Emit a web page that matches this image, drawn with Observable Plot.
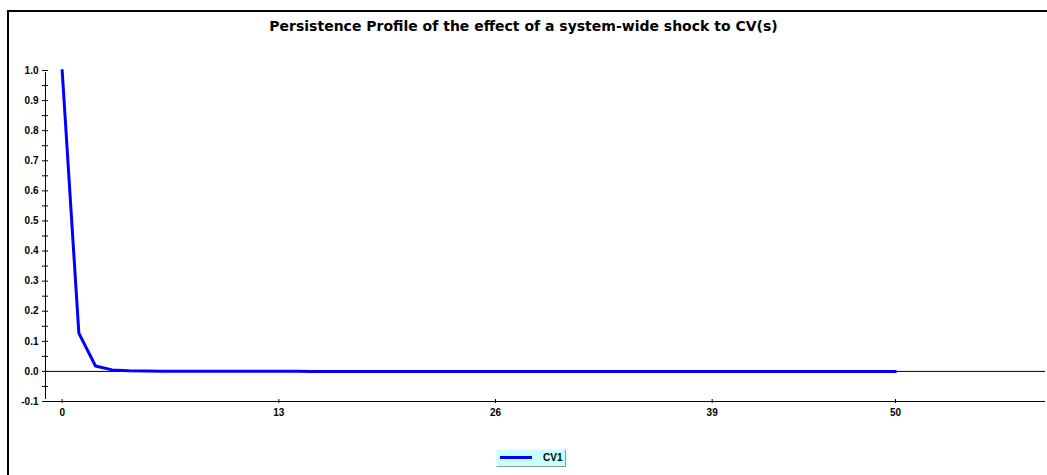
<!DOCTYPE html>
<html>
<head>
<meta charset="utf-8">
<script src="https://cdn.jsdelivr.net/npm/d3@7"></script>
<script src="https://cdn.jsdelivr.net/npm/@observablehq/plot@0.6"></script>
<style>
  body { margin: 0; background: #fff; }
  #wrap { position: relative; width: 1047px; height: 475px; overflow: hidden; font-family: "Liberation Sans", Arial, sans-serif; background: #fff; }
  #plot { position: absolute; left: 0; top: 0; }
  #frameTop { position: absolute; left: 7px; top: 10px; width: 1040px; height: 2px; background: #000; }
  #frameLeft { position: absolute; left: 7px; top: 10px; width: 2px; height: 465px; background: #000; }
  #title { position: absolute; left: 0; top: 18px; width: 1047px; text-align: center; font-family: "DejaVu Sans", sans-serif; font-weight: bold; font-size: 14px; line-height: 16px; color: #000; }
  #legend { position: absolute; left: 496px; top: 449px; width: 70px; height: 18px; box-sizing: border-box; background: #c8ffff; border-top: 1px solid #e8ffff; border-left: 1px solid #e8ffff; border-right: 1px solid #8a9a9a; border-bottom: 1px solid #8a9a9a; }
  #legend svg { position: absolute; left: 0; top: 0; }
  #legend span { position: absolute; left: 46px; top: 2px; font-size: 10px; font-weight: bold; line-height: 12px; color: #000; }
</style>
</head>
<body>
<div id="wrap">
  <div id="plot"></div>
  <div id="frameTop"></div>
  <div id="frameLeft"></div>
  <div id="title"></div>
  <div id="legend"><svg width="40" height="16"><line x1="3" x2="35" y1="7.5" y2="7.5" stroke="#0000ff" stroke-width="3"/></svg><span id="legText"></span></div>
</div>
<script>
const titleText = "Persistence Profile of the effect of a system-wide shock to CV(s)";
const seriesName = "CV1";
const periods = [0,1,2,3,4,5,6,7,8,9,10,11,12,13,14,15,16,17,18,19,20,21,22,23,24,25,26,27,28,29,30,31,32,33,34,35,36,37,38,39,40,41,42,43,44,45,46,47,48,49,50];
const cv1 = [1.0, 0.127, 0.018, 0.005, 0.002, 0.001, 0.0008, 0.0006, 0.0005, 0.0004, 0.0003, 0.0003, 0.0002, 0.0002, 0.0002, 0.0001, 0.0001, 0.0001, 0.0001, 0.0001, 0.0001, 0.0001, 0, 0, 0, 0, 0, 0, 0, 0, 0, 0, 0, 0, 0, 0, 0, 0, 0, 0, 0, 0, 0, 0, 0, 0, 0, 0, 0, 0, 0];
const xTicks = [0, 13, 26, 39, 50];
const yMajorTicks = [-0.1, 0.0, 0.1, 0.2, 0.3, 0.4, 0.5, 0.6, 0.7, 0.8, 0.9, 1.0];
const yMinorTicks = [-0.1, -0.05, 0.0, 0.05, 0.1, 0.15, 0.2, 0.25, 0.3, 0.35, 0.4, 0.45, 0.5, 0.55, 0.6, 0.65, 0.7, 0.75, 0.8, 0.85, 0.9, 0.95, 1.0];
const xDomain = [-1, 59];
const yDomain = [-0.1, 1.0];

document.getElementById("title").textContent = titleText;
document.getElementById("legText").textContent = seriesName;

const data = periods.map((t, i) => ({t, v: cv1[i]}));

const chart = Plot.plot({
  width: 1047,
  height: 475,
  marginLeft: 45,
  marginRight: 2,
  marginTop: 70,
  marginBottom: 74,
  x: {domain: xDomain},
  y: {domain: yDomain},
  style: {background: "transparent", fontFamily: "'Liberation Sans', Arial, sans-serif", fontSize: "10px", fontWeight: "bold", color: "#000", overflow: "visible"},
  marks: [
    Plot.ruleY([0], {stroke: "#000", strokeWidth: 1}),
    Plot.ruleY([yDomain[0]], {stroke: "#000", strokeWidth: 1}),
    Plot.ruleX([xDomain[0]], {y1: yDomain[0], y2: yDomain[1], stroke: "#000", strokeWidth: 1, insetTop: -2, insetBottom: -2}),
    Plot.axisY(yMinorTicks, {tickSize: 6, dx: 3, fill: "none", label: null}),
    Plot.axisY(yMajorTicks, {tickSize: 0, tickPadding: 7, tickFormat: d => d.toFixed(1), label: null}),
    Plot.axisX(xTicks, {tickSize: 4, dy: -2, fill: "none", label: null}),
    Plot.axisX(xTicks, {tickSize: 0, tickPadding: 7, label: null}),
    Plot.line(data, {x: "t", y: "v", stroke: "#0000ff", strokeWidth: 3})
  ]
});
document.getElementById("plot").appendChild(chart);
</script>
</body>
</html>
